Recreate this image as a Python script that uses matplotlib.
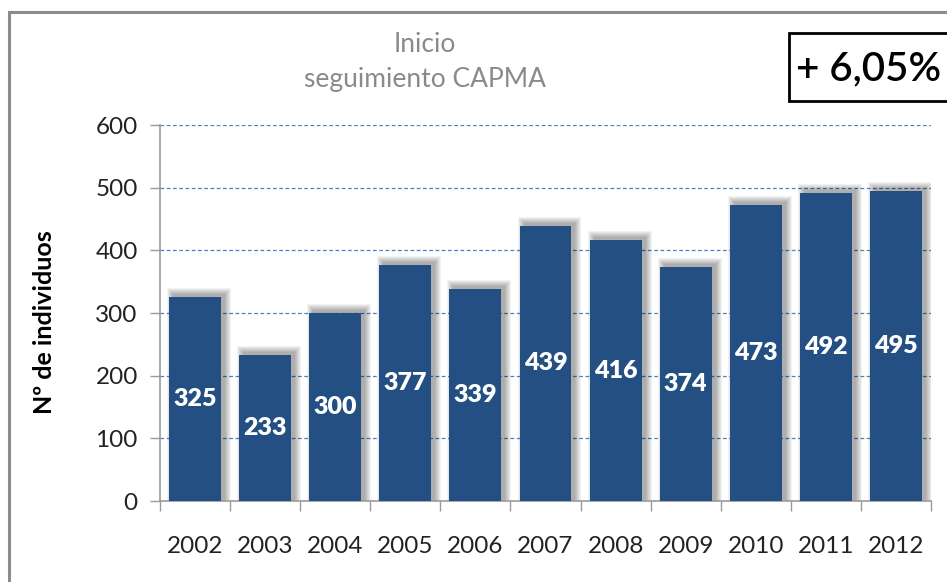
import matplotlib
matplotlib.use("Agg")
import matplotlib.pyplot as plt
from matplotlib.patches import Rectangle
import numpy as np

years = ["2002", "2003", "2004", "2005", "2006", "2007", "2008", "2009", "2010", "2011", "2012"]
values = [325, 233, 300, 377, 339, 439, 416, 374, 473, 492, 495]
yticks = [0, 100, 200, 300, 400, 500, 600]
title_text = "Inicio\nseguimiento CAPMA"
ylabel_text = "Nº de individuos"
badge_text = "+ 6,05%"

W, H = 947, 582
fig = plt.figure(figsize=(W / 100, H / 100), dpi=100)
fig.patch.set_facecolor("white")

FONT = "Lato"
BAR = "#244F82"
GRID = "#4F81BD"
AXC = "#9A9A9A"

left, right, top, bottom = 160, 931, 125, 501
ax = fig.add_axes([left / W, 1 - bottom / H, (right - left) / W, (bottom - top) / H])
ax.set_xlim(-0.5, len(years) - 0.5)
ax.set_ylim(0, 600)

x = np.arange(len(years))
vals = np.array(values, dtype=float)
bw = 0.74

# blurred shadow (offset right & up)
px_x = 1.0 / ((right - left) / len(years))
px_y = 600.0 / (bottom - top)
for g in np.linspace(0, 6, 7):
    ax.bar(x + 4 * px_x, vals + 3 * px_y + g * px_y, width=bw + 2 * g * px_x,
           bottom=0, color="black", alpha=0.05, linewidth=0, zorder=2)

ax.bar(x, vals, width=bw, color=BAR, linewidth=0, zorder=3)

for xi, v in zip(x, values):
    ax.text(xi, v / 2, str(v), ha="center", va="center", color="white",
            fontsize=18, fontweight="heavy", family=FONT, zorder=4)

ax.set_yticks(yticks)
ax.set_yticklabels([str(t) for t in yticks], fontsize=17.5, family=FONT, color="#222222")
ax.set_xticks(x)
ax.set_xticklabels(years, fontsize=17.5, family=FONT, color="#222222")
ax.tick_params(axis="x", length=0, pad=25)
ax.tick_params(axis="y", length=7, color=AXC, width=1, pad=9)
ax.set_xticks(np.arange(-0.5, len(years)), minor=True)
ax.tick_params(axis="x", which="minor", length=7, color=AXC, width=1)

for t in yticks[1:]:
    ax.axhline(t, color=GRID, linestyle=(0, (3, 2)), linewidth=0.9, zorder=1)

for s in ["top", "right"]:
    ax.spines[s].set_visible(False)
for s in ["left", "bottom"]:
    ax.spines[s].set_color(AXC)
    ax.spines[s].set_linewidth(1.2)

fig.text(45 / W, 1 - 322 / H, ylabel_text, rotation=90, ha="center", va="center",
         fontsize=18, fontweight="bold", family=FONT, color="black")

fig.text(425 / W, 1 - 62 / H, title_text, ha="center", va="center",
         fontsize=19, family=FONT, color="#8A8A8A", linespacing=1.45)

# outer frame
fig.patches.append(Rectangle((9 / W, -0.1), 1.2, 1 - 12 / H + 0.1, transform=fig.transFigure,
                             fill=False, edgecolor="#8C8C8C", linewidth=2.2, zorder=0))

# badge box
fig.patches.append(Rectangle((789 / W, 1 - 101 / H), 0.3, 68 / H, transform=fig.transFigure,
                             fill=True, facecolor="white", edgecolor="black", linewidth=2, zorder=5))
fig.text(796 / W, 1 - 69 / H, badge_text, ha="left", va="center", fontsize=29,
         fontweight="semibold", family=FONT, color="black", zorder=6)

fig.savefig("out.png", dpi=100)
